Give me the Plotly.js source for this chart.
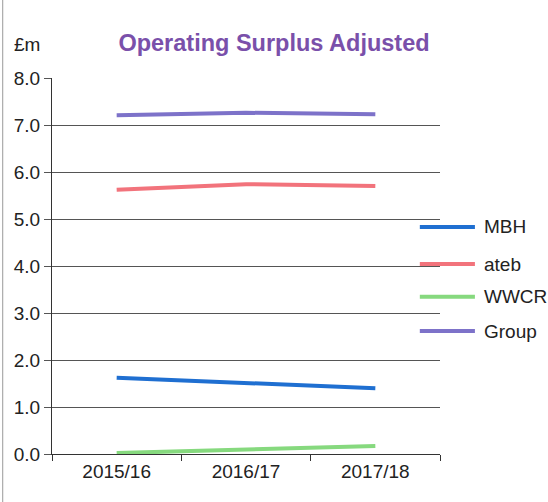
<!DOCTYPE html>
<html>
<head>
<meta charset="utf-8">
<script src="https://cdn.plot.ly/plotly-3.0.1.min.js"></script>
<style>html,body{margin:0;padding:0;background:#fff}#chart{width:548px;height:502px}</style>
</head>
<body>
<div id="chart"></div>
<script>
const years = ["2015/16", "2016/17", "2017/18"];
const seriesNames = ["MBH", "ateb", "WWCR", "Group"];
const mbh = [1.62, 1.50, 1.40];
const ateb = [5.62, 5.74, 5.70];
const wwcr = [0.02, 0.10, 0.17];
const group = [7.21, 7.26, 7.23];
const yTicks = [0, 1, 2, 3, 4, 5, 6, 7, 8];
const yTickText = ["0.0", "1.0", "2.0", "3.0", "4.0", "5.0", "6.0", "7.0", "8.0"];
const colors = ["#1f6fd1", "#f2737c", "#86d97e", "#7d72c9"];
const values = [mbh, ateb, wwcr, group];

const traces = values.map((v, i) => ({
  x: years, y: v, type: "scatter", mode: "lines", name: seriesNames[i],
  showlegend: false,
  line: {color: colors[i], width: 4}
}));

// manual legend (positions in paper coordinates)
const legendY = [0.604, 0.505, 0.418, 0.327];
const legendShapes = seriesNames.map((n, i) => ({
  type: "line", xref: "paper", yref: "paper", x0: 0.948, x1: 1.09, y0: legendY[i], y1: legendY[i],
  line: {color: colors[i], width: 4}
}));
const legendLabels = seriesNames.map((n, i) => ({
  text: n, xref: "paper", yref: "paper", x: 1.108, xanchor: "left", y: legendY[i], yanchor: "middle",
  showarrow: false, font: {size: 19, color: "#222"}
}));

const layout = {
  width: 548, height: 502,
  margin: {l: 52, r: 108, t: 78, b: 48},
  paper_bgcolor: "#fff", plot_bgcolor: "#fff",
  font: {family: "Liberation Sans, Arial, sans-serif", size: 19, color: "#222"},
  title: {text: "Operating Surplus Adjusted", x: 0.5, xanchor: "center", y: 0.914, yanchor: "middle",
    font: {size: 23.5, color: "#7a50aa", family: "Liberation Sans, Arial, sans-serif", weight: "bold"}},
  showlegend: false,
  xaxis: {type: "category", range: [-0.5, 2.5], showgrid: false, showline: true, linecolor: "#333", linewidth: 1,
    ticks: "outside", tickson: "boundaries", ticklen: 6, tickcolor: "#333",
    tickfont: {size: 19, color: "#222"}, fixedrange: true},
  yaxis: {range: [0, 8.0001], tickvals: yTicks, ticktext: yTickText, showgrid: true, gridcolor: "#555", gridwidth: 1,
    showline: true, linecolor: "#333", linewidth: 1, ticks: "outside", ticklen: 7, tickcolor: "#555",
    zeroline: false, tickfont: {size: 19, color: "#222"}, fixedrange: true},
  annotations: [{text: "£m", xref: "paper", yref: "paper", x: -0.104, xanchor: "left", y: 1.09, yanchor: "middle",
    showarrow: false, font: {size: 19, color: "#222"}}].concat(legendLabels),
  shapes: [
    {type: "line", xref: "paper", yref: "paper", x0: -0.127, x1: -0.127, y0: -0.13, y1: 1.21, line: {color: "#999", width: 1}}
  ].concat(legendShapes)
};

Plotly.newPlot("chart", traces, layout, {displayModeBar: false, staticPlot: true});
</script>
</body>
</html>
